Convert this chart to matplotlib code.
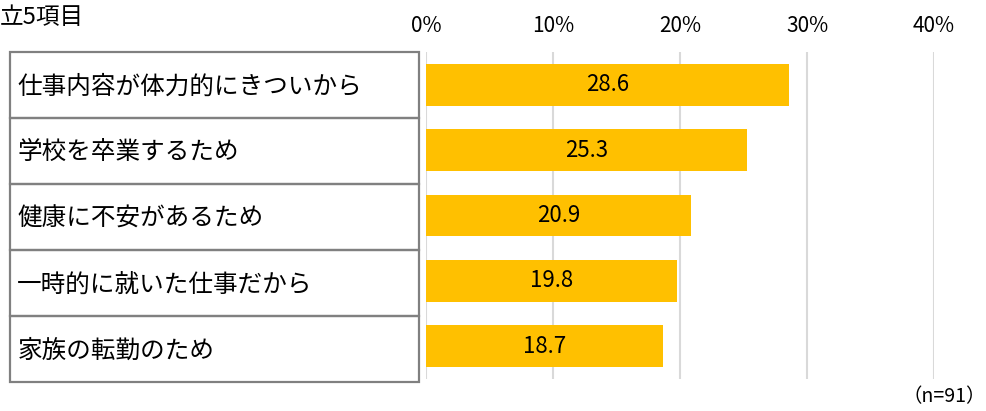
import matplotlib
matplotlib.use('Agg')
import matplotlib.pyplot as plt
from matplotlib.patches import Rectangle

plt.rcParams['font.family'] = ['Noto Sans CJK JP', 'DejaVu Sans']

categories = ['仕事内容が体力的にきついから', '学校を卒業するため', '健康に不安があるため',
              '一時的に就いた仕事だから', '家族の転勤のため']
values = [28.6, 25.3, 20.9, 19.8, 18.7]
ticks = [0, 10, 20, 30, 40]
tick_labels = ['0%', '10%', '20%', '30%', '40%']

W, H = 987, 411
fig = plt.figure(figsize=(W / 100, H / 100), dpi=100)

# bar area
ax = fig.add_axes([426 / W, 1 - 379 / H, (934 - 426) / W, (379 - 52) / H])
pos = list(range(len(categories)))
ax.barh(pos, values, height=0.64, color='#FFC000', zorder=2)
for p, v in zip(pos, values):
    ax.text(v / 2, p, f'{v:.1f}', ha='center', va='center', fontsize=16, zorder=3)
ax.set_xlim(0, 40)
ax.set_ylim(4.5, -0.5)
ax.set_xticks(ticks)
ax.set_xticklabels(tick_labels, fontsize=15)
ax.xaxis.tick_top()
ax.tick_params(axis='x', length=0, pad=11)
ax.set_yticks([])
ax.grid(axis='x', color='#D9D9D9', linewidth=1.5, zorder=0)
for s in ax.spines.values():
    s.set_visible(False)

# label boxes on the left
lab = fig.add_axes([10 / W, 1 - 382 / H, (419 - 10) / W, (382 - 52) / H])
lab.set_xlim(0, 1)
lab.set_ylim(4.5, -0.5)
lab.axis('off')
for p, name in zip(pos, categories):
    lab.add_patch(Rectangle((0, p - 0.5), 1, 1, facecolor='none', edgecolor='#808080',
                            linewidth=1.6, clip_on=False))
    lab.text(0.018, p + 0.02, name, ha='left', va='center', fontsize=17.7)

fig.text(0, 1 - 17 / H, '立5項目', ha='left', va='center', fontsize=17)
fig.text(986 / W, 1 - 397 / H, '（n=91）', ha='right', va='center', fontsize=14)

fig.savefig('out.png', dpi=100)
